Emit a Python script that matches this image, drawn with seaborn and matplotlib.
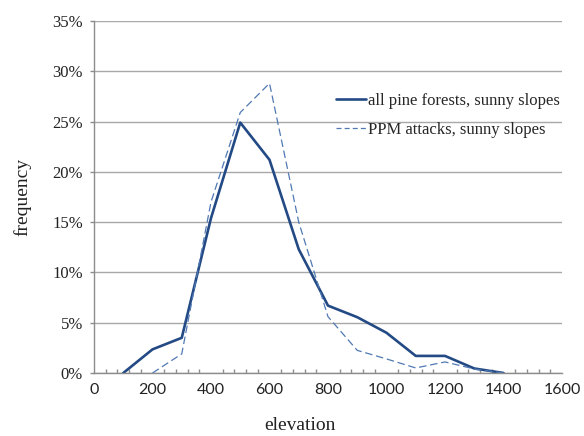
import numpy as np
import pandas as pd
import seaborn as sns
import matplotlib
matplotlib.use("Agg")
import matplotlib.pyplot as plt
from matplotlib.ticker import MultipleLocator, FuncFormatter
from matplotlib.lines import Line2D

# Data (percent frequency by elevation)
elev_all = [100, 200, 300, 400, 500, 600, 700, 800, 900, 1000, 1100, 1200, 1300, 1400]
freq_all = [0.0, 2.35, 3.5, 15.4, 24.9, 21.2, 12.3, 6.7, 5.55, 4.0, 1.7, 1.7, 0.45, 0.0]
elev_ppm = [200, 300, 400, 500, 600, 700, 800, 900, 1000, 1100, 1200, 1300, 1400]
freq_ppm = [0.0, 1.9, 17.0, 25.9, 28.8, 15.0, 5.6, 2.25, 1.4, 0.5, 1.1, 0.4, 0.0]
series_names = ["all pine forests, sunny slopes", "PPM attacks, sunny slopes"]

df = pd.concat([
    pd.DataFrame({"elevation": elev_all, "frequency": freq_all, "series": series_names[0]}),
    pd.DataFrame({"elevation": elev_ppm, "frequency": freq_ppm, "series": series_names[1]}),
])

sns.set_theme(style="white")
plt.rcParams['font.family'] = ['Liberation Serif', 'DejaVu Serif']

fig = plt.figure(figsize=(5.84, 4.36), dpi=100)
ax = fig.add_axes([94/584, 1 - 373/436, (562 - 94)/584, (373 - 21)/436])

palette = {series_names[0]: "#234a84", series_names[1]: "#5079b3"}
sns.lineplot(data=df, x="elevation", y="frequency", hue="series", style="series",
             palette=palette, dashes={series_names[0]: "", series_names[1]: (6, 3)},
             ax=ax, legend=False, sort=False)
lines = ax.get_lines()
lines[0].set_linewidth(1.9)
lines[1].set_linewidth(0.9)

ax.set_xlim(0, 1600)
ax.set_ylim(0, 35)
ax.xaxis.set_major_locator(MultipleLocator(200))
ax.xaxis.set_minor_locator(MultipleLocator(40))
ax.yaxis.set_major_locator(MultipleLocator(5))
ax.yaxis.set_major_formatter(FuncFormatter(lambda v, p: f"{v:.0f}%"))

ax.grid(axis="y", color="#a8a8a8", linewidth=1.0)
ax.grid(axis="x", visible=False)
ax.set_axisbelow(True)

for s in ["top", "right"]:
    ax.spines[s].set_visible(False)
for s in ["left", "bottom"]:
    ax.spines[s].set_color("#8c8c8c")
    ax.spines[s].set_linewidth(1.0)

ax.tick_params(axis="x", which="major", direction="inout", length=6, width=1, color="#8c8c8c",
               labelsize=11.5, pad=4)
ax.tick_params(axis="x", which="minor", direction="in", length=3, width=1, color="#8c8c8c", bottom=True)
ax.tick_params(axis="y", which="major", direction="out", length=3, width=1, color="#8c8c8c",
               labelsize=12, pad=5, left=True)
for lab in ax.get_xticklabels():
    lab.set_fontfamily(["Lato", "DejaVu Sans"])
    lab.set_color("#222222")
for lab in ax.get_yticklabels():
    lab.set_color("#222222")

ax.set_xlabel("elevation", fontsize=14, color="#222222")
ax.set_ylabel("frequency", fontsize=14, color="#222222")
ax.xaxis.label.set_va("center")
ax.yaxis.label.set_va("center")
ax.xaxis.set_label_coords((300 - 94) / 468, -(425 - 373) / 352)
ax.yaxis.set_label_coords(-(94 - 22) / 468, 0.5)

handles = [Line2D([], [], color=palette[series_names[0]], lw=1.9),
           Line2D([], [], color=palette[series_names[1]], lw=0.9, dashes=(4, 2.5))]
ax.legend(handles, series_names, loc="upper left", bbox_to_anchor=((336 - 94) / 468, 1 - (93 - 21) / 352),
          frameon=False, fontsize=12, handlelength=1.8, handletextpad=0.15, labelspacing=0.8,
          borderpad=0, borderaxespad=0)

fig.savefig("out.png", dpi=100)
